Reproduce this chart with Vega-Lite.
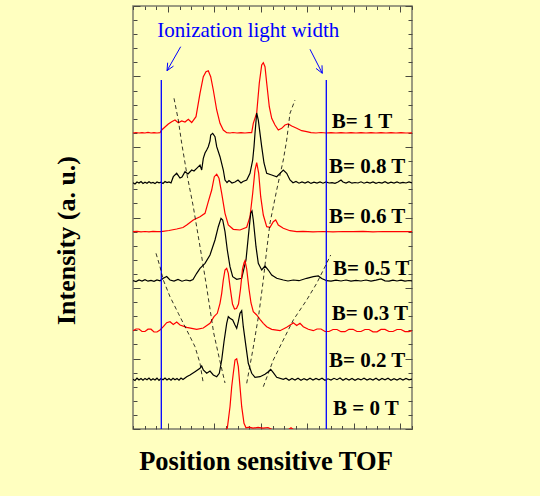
{
  "$schema": "https://vega.github.io/schema/vega-lite/v6.json",
  "width": 279,
  "height": 423,
  "autosize": "none",
  "padding": {"left": 133, "top": 6, "right": 128, "bottom": 67},
  "background": "#FFFFC0",
  "config": {
    "view": {"stroke": "#7b7b6b", "strokeWidth": 1.5},
    "axis": {"grid": false, "labels": false, "domain": false, "tickColor": "#4a4a40", "tickWidth": 1}
  },
  "datasets": {
    "traces": [
      {"trace":"1T","x":0,"y":296},{"trace":"1T","x":3,"y":296.5},{"trace":"1T","x":6,"y":296},{"trace":"1T","x":9,"y":296.3},{"trace":"1T","x":12,"y":296},{"trace":"1T","x":15,"y":296.6},{"trace":"1T","x":18,"y":296},{"trace":"1T","x":21,"y":296.4},{"trace":"1T","x":24,"y":296},{"trace":"1T","x":27,"y":296.3},{"trace":"1T","x":28.7,"y":299},{"trace":"1T","x":32,"y":302},{"trace":"1T","x":35.3,"y":305},{"trace":"1T","x":38.7,"y":307.3},{"trace":"1T","x":42,"y":309},{"trace":"1T","x":45.3,"y":306.3},{"trace":"1T","x":48.7,"y":308},{"trace":"1T","x":52,"y":307},{"trace":"1T","x":55.3,"y":309.7},{"trace":"1T","x":58.7,"y":306.5},{"trace":"1T","x":63,"y":312.3},{"trace":"1T","x":67,"y":335.7},{"trace":"1T","x":70.3,"y":352.3},{"trace":"1T","x":73,"y":357.3},{"trace":"1T","x":75.3,"y":358.3},{"trace":"1T","x":77.7,"y":352.3},{"trace":"1T","x":80.3,"y":339},{"trace":"1T","x":83.7,"y":319},{"trace":"1T","x":87,"y":305.7},{"trace":"1T","x":90.3,"y":299},{"trace":"1T","x":93.7,"y":296.3},{"trace":"1T","x":97,"y":296},{"trace":"1T","x":100,"y":296.5},{"trace":"1T","x":104,"y":296},{"trace":"1T","x":108,"y":296.3},{"trace":"1T","x":112,"y":296},{"trace":"1T","x":116,"y":296.4},{"trace":"1T","x":118.7,"y":296.3},{"trace":"1T","x":120.3,"y":305.7},{"trace":"1T","x":123.7,"y":316},{"trace":"1T","x":126.3,"y":346},{"trace":"1T","x":128.7,"y":364},{"trace":"1T","x":130.3,"y":366.3},{"trace":"1T","x":132,"y":362.3},{"trace":"1T","x":133.7,"y":346},{"trace":"1T","x":136.3,"y":322.3},{"trace":"1T","x":138.7,"y":310.7},{"trace":"1T","x":142,"y":304},{"trace":"1T","x":145.3,"y":299},{"trace":"1T","x":148.7,"y":300.7},{"trace":"1T","x":152,"y":304},{"trace":"1T","x":155.3,"y":305},{"trace":"1T","x":158.7,"y":303},{"trace":"1T","x":163.7,"y":300.7},{"trace":"1T","x":168.7,"y":298.3},{"trace":"1T","x":173.7,"y":297.3},{"trace":"1T","x":178,"y":296.3},{"trace":"1T","x":183,"y":296},{"trace":"1T","x":188,"y":296.5},{"trace":"1T","x":193,"y":296},{"trace":"1T","x":198,"y":296.3},{"trace":"1T","x":203,"y":296},{"trace":"1T","x":208,"y":296.4},{"trace":"1T","x":213,"y":296},{"trace":"1T","x":218,"y":296.3},{"trace":"1T","x":223,"y":296},{"trace":"1T","x":228,"y":296.4},{"trace":"1T","x":233,"y":296},{"trace":"1T","x":238,"y":296.3},{"trace":"1T","x":243,"y":296},{"trace":"1T","x":248,"y":296.4},{"trace":"1T","x":253,"y":296},{"trace":"1T","x":258,"y":296.3},{"trace":"1T","x":263,"y":296},{"trace":"1T","x":268,"y":296.4},{"trace":"1T","x":273,"y":296},{"trace":"1T","x":279,"y":296.2},

      {"trace":"0.8T","x":0,"y":246.3},{"trace":"0.8T","x":2,"y":245},{"trace":"0.8T","x":4,"y":247},{"trace":"0.8T","x":6,"y":246},{"trace":"0.8T","x":8,"y":247.5},{"trace":"0.8T","x":10,"y":245.5},{"trace":"0.8T","x":12,"y":246.8},{"trace":"0.8T","x":14,"y":245.8},{"trace":"0.8T","x":16,"y":247.2},{"trace":"0.8T","x":18,"y":246},{"trace":"0.8T","x":20,"y":246.5},{"trace":"0.8T","x":22,"y":245.4},{"trace":"0.8T","x":24,"y":247},{"trace":"0.8T","x":26,"y":246.2},{"trace":"0.8T","x":28,"y":246.8},{"trace":"0.8T","x":30,"y":245.6},{"trace":"0.8T","x":32,"y":247.5},{"trace":"0.8T","x":34,"y":246.4},{"trace":"0.8T","x":36,"y":247},{"trace":"0.8T","x":38,"y":246},{"trace":"0.8T","x":40.3,"y":252.3},{"trace":"0.8T","x":43.7,"y":255.7},{"trace":"0.8T","x":47,"y":251},{"trace":"0.8T","x":49,"y":252},{"trace":"0.8T","x":52,"y":257.3},{"trace":"0.8T","x":55,"y":255},{"trace":"0.8T","x":58.7,"y":259},{"trace":"0.8T","x":61,"y":258},{"trace":"0.8T","x":63.7,"y":260.7},{"trace":"0.8T","x":67,"y":264},{"trace":"0.8T","x":68.7,"y":259},{"trace":"0.8T","x":70.3,"y":270.7},{"trace":"0.8T","x":72,"y":276},{"trace":"0.8T","x":73.7,"y":279},{"trace":"0.8T","x":75.3,"y":282.3},{"trace":"0.8T","x":77,"y":288},{"trace":"0.8T","x":77.7,"y":294},{"trace":"0.8T","x":79.7,"y":295.7},{"trace":"0.8T","x":82,"y":292.3},{"trace":"0.8T","x":83.7,"y":282.3},{"trace":"0.8T","x":87,"y":272.3},{"trace":"0.8T","x":90.3,"y":259},{"trace":"0.8T","x":92,"y":249},{"trace":"0.8T","x":94,"y":246.5},{"trace":"0.8T","x":96,"y":248.5},{"trace":"0.8T","x":99,"y":246},{"trace":"0.8T","x":102,"y":247},{"trace":"0.8T","x":105,"y":249},{"trace":"0.8T","x":108,"y":246},{"trace":"0.8T","x":110,"y":247.5},{"trace":"0.8T","x":113.7,"y":249},{"trace":"0.8T","x":117,"y":255.7},{"trace":"0.8T","x":119.7,"y":269},{"trace":"0.8T","x":121,"y":282.3},{"trace":"0.8T","x":122,"y":295.7},{"trace":"0.8T","x":123.7,"y":316},{"trace":"0.8T","x":125.3,"y":309},{"trace":"0.8T","x":127,"y":295.7},{"trace":"0.8T","x":128.7,"y":282.3},{"trace":"0.8T","x":131,"y":266},{"trace":"0.8T","x":133.7,"y":255.7},{"trace":"0.8T","x":138.7,"y":254},{"trace":"0.8T","x":143.7,"y":252.3},{"trace":"0.8T","x":147,"y":255.7},{"trace":"0.8T","x":150.3,"y":259},{"trace":"0.8T","x":153.7,"y":255.7},{"trace":"0.8T","x":157,"y":249},{"trace":"0.8T","x":160,"y":246.3},{"trace":"0.8T","x":163,"y":247.5},{"trace":"0.8T","x":166,"y":245.8},{"trace":"0.8T","x":169,"y":247},{"trace":"0.8T","x":172,"y":246},{"trace":"0.8T","x":175,"y":247.3},{"trace":"0.8T","x":178,"y":245.6},{"trace":"0.8T","x":181,"y":246.8},{"trace":"0.8T","x":184,"y":246},{"trace":"0.8T","x":187,"y":247},{"trace":"0.8T","x":190,"y":245.8},{"trace":"0.8T","x":193,"y":247},{"trace":"0.8T","x":196,"y":246},{"trace":"0.8T","x":199,"y":246.4},{"trace":"0.8T","x":202,"y":245.6},{"trace":"0.8T","x":205,"y":247},{"trace":"0.8T","x":208,"y":249},{"trace":"0.8T","x":210,"y":247},{"trace":"0.8T","x":213,"y":246},{"trace":"0.8T","x":216,"y":247.3},{"trace":"0.8T","x":219,"y":245.8},{"trace":"0.8T","x":222,"y":246.5},{"trace":"0.8T","x":225,"y":246},{"trace":"0.8T","x":228,"y":247.2},{"trace":"0.8T","x":231,"y":245.8},{"trace":"0.8T","x":234,"y":246.8},{"trace":"0.8T","x":237,"y":246},{"trace":"0.8T","x":240,"y":247},{"trace":"0.8T","x":243,"y":245.6},{"trace":"0.8T","x":246,"y":246.7},{"trace":"0.8T","x":249,"y":246},{"trace":"0.8T","x":252,"y":247.3},{"trace":"0.8T","x":255,"y":245.7},{"trace":"0.8T","x":258,"y":246.8},{"trace":"0.8T","x":261,"y":246},{"trace":"0.8T","x":264,"y":247},{"trace":"0.8T","x":267,"y":245.8},{"trace":"0.8T","x":270,"y":246.6},{"trace":"0.8T","x":273,"y":246},{"trace":"0.8T","x":276,"y":247},{"trace":"0.8T","x":279,"y":246.2},

      {"trace":"0.6T","x":0,"y":197.3},{"trace":"0.6T","x":4,"y":197.6},{"trace":"0.6T","x":8,"y":197.2},{"trace":"0.6T","x":12,"y":197.5},{"trace":"0.6T","x":16,"y":197.2},{"trace":"0.6T","x":20,"y":197.6},{"trace":"0.6T","x":24,"y":197.3},{"trace":"0.6T","x":28,"y":197.3},{"trace":"0.6T","x":36,"y":198.5},{"trace":"0.6T","x":43.7,"y":200},{"trace":"0.6T","x":50,"y":201.5},{"trace":"0.6T","x":53.7,"y":204},{"trace":"0.6T","x":60.3,"y":209},{"trace":"0.6T","x":67,"y":212.3},{"trace":"0.6T","x":72,"y":215.7},{"trace":"0.6T","x":75.3,"y":227.3},{"trace":"0.6T","x":78.7,"y":239},{"trace":"0.6T","x":81.3,"y":252.3},{"trace":"0.6T","x":83.7,"y":254.7},{"trace":"0.6T","x":86,"y":250.7},{"trace":"0.6T","x":88.7,"y":235.7},{"trace":"0.6T","x":92,"y":215.7},{"trace":"0.6T","x":95.3,"y":204},{"trace":"0.6T","x":100.3,"y":199.7},{"trace":"0.6T","x":107,"y":199},{"trace":"0.6T","x":113.7,"y":201.7},{"trace":"0.6T","x":117,"y":212.3},{"trace":"0.6T","x":119.7,"y":235.7},{"trace":"0.6T","x":122,"y":259},{"trace":"0.6T","x":123.7,"y":266.3},{"trace":"0.6T","x":125.7,"y":255.7},{"trace":"0.6T","x":127.7,"y":232.3},{"trace":"0.6T","x":130.3,"y":214},{"trace":"0.6T","x":133.7,"y":202.3},{"trace":"0.6T","x":137,"y":201.7},{"trace":"0.6T","x":140.3,"y":207.3},{"trace":"0.6T","x":142.7,"y":209},{"trace":"0.6T","x":145.3,"y":204},{"trace":"0.6T","x":150.3,"y":200.7},{"trace":"0.6T","x":157,"y":198.3},{"trace":"0.6T","x":163.7,"y":197.3},{"trace":"0.6T","x":170,"y":197.6},{"trace":"0.6T","x":180,"y":197.2},{"trace":"0.6T","x":190,"y":197.5},{"trace":"0.6T","x":200,"y":197.2},{"trace":"0.6T","x":210,"y":197.5},{"trace":"0.6T","x":220,"y":197.3},{"trace":"0.6T","x":230,"y":197.6},{"trace":"0.6T","x":240,"y":197.2},{"trace":"0.6T","x":250,"y":197.5},{"trace":"0.6T","x":260,"y":197.3},{"trace":"0.6T","x":270,"y":197.5},{"trace":"0.6T","x":279,"y":197.3},

      {"trace":"0.5T","x":0,"y":148.3},{"trace":"0.5T","x":3,"y":147.5},{"trace":"0.5T","x":6,"y":149},{"trace":"0.5T","x":9,"y":148},{"trace":"0.5T","x":12,"y":149.3},{"trace":"0.5T","x":15,"y":147.8},{"trace":"0.5T","x":18,"y":148.6},{"trace":"0.5T","x":21,"y":147.6},{"trace":"0.5T","x":24,"y":149},{"trace":"0.5T","x":27,"y":148.2},{"trace":"0.5T","x":30.3,"y":150.7},{"trace":"0.5T","x":33.7,"y":152.5},{"trace":"0.5T","x":37,"y":149},{"trace":"0.5T","x":41,"y":148},{"trace":"0.5T","x":45,"y":149.5},{"trace":"0.5T","x":49,"y":147.8},{"trace":"0.5T","x":53,"y":149},{"trace":"0.5T","x":57,"y":148.2},{"trace":"0.5T","x":60,"y":149.5},{"trace":"0.5T","x":63.7,"y":155.7},{"trace":"0.5T","x":67,"y":160.7},{"trace":"0.5T","x":72,"y":165.7},{"trace":"0.5T","x":77,"y":174},{"trace":"0.5T","x":82,"y":189},{"trace":"0.5T","x":85.3,"y":202.3},{"trace":"0.5T","x":88,"y":210.7},{"trace":"0.5T","x":89.7,"y":209},{"trace":"0.5T","x":92,"y":197.3},{"trace":"0.5T","x":94.3,"y":179},{"trace":"0.5T","x":97,"y":162.3},{"trace":"0.5T","x":99.7,"y":152.3},{"trace":"0.5T","x":103.7,"y":149.7},{"trace":"0.5T","x":108.7,"y":150.7},{"trace":"0.5T","x":113,"y":169},{"trace":"0.5T","x":115.3,"y":192.3},{"trace":"0.5T","x":117.7,"y":215.7},{"trace":"0.5T","x":119,"y":218},{"trace":"0.5T","x":120.3,"y":209},{"trace":"0.5T","x":123,"y":182.3},{"trace":"0.5T","x":125.3,"y":165.7},{"trace":"0.5T","x":128.7,"y":159},{"trace":"0.5T","x":132,"y":163},{"trace":"0.5T","x":135.3,"y":159},{"trace":"0.5T","x":138.7,"y":154},{"trace":"0.5T","x":143.7,"y":150.7},{"trace":"0.5T","x":150.3,"y":149},{"trace":"0.5T","x":155,"y":148},{"trace":"0.5T","x":160.3,"y":149},{"trace":"0.5T","x":166,"y":148.3},{"trace":"0.5T","x":173.7,"y":150.7},{"trace":"0.5T","x":180.3,"y":152.3},{"trace":"0.5T","x":185.3,"y":153},{"trace":"0.5T","x":188.7,"y":150.5},{"trace":"0.5T","x":193.7,"y":148.3},{"trace":"0.5T","x":198,"y":147.8},{"trace":"0.5T","x":203,"y":148.8},{"trace":"0.5T","x":208,"y":148},{"trace":"0.5T","x":213,"y":149},{"trace":"0.5T","x":218,"y":147.8},{"trace":"0.5T","x":223,"y":148.6},{"trace":"0.5T","x":228,"y":148},{"trace":"0.5T","x":233,"y":149},{"trace":"0.5T","x":238,"y":147.8},{"trace":"0.5T","x":243,"y":148.8},{"trace":"0.5T","x":248,"y":150},{"trace":"0.5T","x":252,"y":148.2},{"trace":"0.5T","x":256,"y":147.8},{"trace":"0.5T","x":260,"y":148.8},{"trace":"0.5T","x":264,"y":148},{"trace":"0.5T","x":268,"y":148.8},{"trace":"0.5T","x":272,"y":147.8},{"trace":"0.5T","x":276,"y":148.5},{"trace":"0.5T","x":279,"y":148.2},

      {"trace":"0.3T","x":0,"y":98.3},{"trace":"0.3T","x":3,"y":100},{"trace":"0.3T","x":6,"y":100},{"trace":"0.3T","x":9,"y":97.5},{"trace":"0.3T","x":12,"y":97.5},{"trace":"0.3T","x":15,"y":99.8},{"trace":"0.3T","x":18,"y":99.8},{"trace":"0.3T","x":21,"y":97},{"trace":"0.3T","x":24,"y":97},{"trace":"0.3T","x":27,"y":99},{"trace":"0.3T","x":30.3,"y":102.3},{"trace":"0.3T","x":33.7,"y":106.3},{"trace":"0.3T","x":37,"y":107.3},{"trace":"0.3T","x":40.3,"y":104.5},{"trace":"0.3T","x":43.7,"y":107},{"trace":"0.3T","x":47,"y":104},{"trace":"0.3T","x":53.7,"y":101.7},{"trace":"0.3T","x":63.7,"y":99.7},{"trace":"0.3T","x":70.3,"y":101},{"trace":"0.3T","x":77,"y":105.7},{"trace":"0.3T","x":81,"y":112.3},{"trace":"0.3T","x":84.3,"y":115.7},{"trace":"0.3T","x":87,"y":125.7},{"trace":"0.3T","x":88.7,"y":135.7},{"trace":"0.3T","x":90.3,"y":149},{"trace":"0.3T","x":92,"y":159},{"trace":"0.3T","x":93.7,"y":160.7},{"trace":"0.3T","x":95.3,"y":155.7},{"trace":"0.3T","x":97,"y":142.3},{"trace":"0.3T","x":99.5,"y":125},{"trace":"0.3T","x":101.5,"y":120},{"trace":"0.3T","x":103.5,"y":120.5},{"trace":"0.3T","x":105.5,"y":125},{"trace":"0.3T","x":107.5,"y":140},{"trace":"0.3T","x":109.5,"y":160},{"trace":"0.3T","x":111,"y":166},{"trace":"0.3T","x":112,"y":168.3},{"trace":"0.3T","x":113.7,"y":160},{"trace":"0.3T","x":116,"y":140},{"trace":"0.3T","x":118,"y":126},{"trace":"0.3T","x":120.3,"y":117.3},{"trace":"0.3T","x":123.7,"y":114},{"trace":"0.3T","x":127,"y":109.7},{"trace":"0.3T","x":130.3,"y":105.7},{"trace":"0.3T","x":133.7,"y":102.3},{"trace":"0.3T","x":138.7,"y":99.7},{"trace":"0.3T","x":147,"y":98.3},{"trace":"0.3T","x":153.7,"y":101.7},{"trace":"0.3T","x":158.7,"y":105},{"trace":"0.3T","x":160.3,"y":106.3},{"trace":"0.3T","x":163.7,"y":103.5},{"trace":"0.3T","x":167,"y":105.7},{"trace":"0.3T","x":170.3,"y":102.3},{"trace":"0.3T","x":175.3,"y":99.7},{"trace":"0.3T","x":180.3,"y":98.3},{"trace":"0.3T","x":184,"y":100},{"trace":"0.3T","x":188,"y":100},{"trace":"0.3T","x":192,"y":97.5},{"trace":"0.3T","x":196,"y":97.5},{"trace":"0.3T","x":200,"y":99.5},{"trace":"0.3T","x":204,"y":99.5},{"trace":"0.3T","x":208,"y":97.3},{"trace":"0.3T","x":212,"y":97.3},{"trace":"0.3T","x":216,"y":99.7},{"trace":"0.3T","x":220,"y":99.7},{"trace":"0.3T","x":224,"y":97.5},{"trace":"0.3T","x":228,"y":97.5},{"trace":"0.3T","x":232,"y":99.5},{"trace":"0.3T","x":236,"y":99.5},{"trace":"0.3T","x":240,"y":97.2},{"trace":"0.3T","x":244,"y":97.2},{"trace":"0.3T","x":248,"y":99.6},{"trace":"0.3T","x":252,"y":99.6},{"trace":"0.3T","x":256,"y":97.5},{"trace":"0.3T","x":260,"y":97.5},{"trace":"0.3T","x":264,"y":99.5},{"trace":"0.3T","x":268,"y":99.5},{"trace":"0.3T","x":272,"y":97.4},{"trace":"0.3T","x":276,"y":97.4},{"trace":"0.3T","x":279,"y":98.3},

      {"trace":"0.2T","x":0,"y":49.7},{"trace":"0.2T","x":2,"y":48.5},{"trace":"0.2T","x":4,"y":50.8},{"trace":"0.2T","x":6,"y":49},{"trace":"0.2T","x":8,"y":50.5},{"trace":"0.2T","x":10,"y":48.8},{"trace":"0.2T","x":12,"y":50.6},{"trace":"0.2T","x":14,"y":49.2},{"trace":"0.2T","x":16,"y":51},{"trace":"0.2T","x":18,"y":48.8},{"trace":"0.2T","x":20,"y":50.3},{"trace":"0.2T","x":22,"y":49},{"trace":"0.2T","x":24,"y":50.8},{"trace":"0.2T","x":26,"y":48.7},{"trace":"0.2T","x":28,"y":50.5},{"trace":"0.2T","x":30,"y":49.3},{"trace":"0.2T","x":32,"y":51},{"trace":"0.2T","x":34,"y":49},{"trace":"0.2T","x":36,"y":50.4},{"trace":"0.2T","x":38,"y":48.8},{"trace":"0.2T","x":40,"y":50.7},{"trace":"0.2T","x":42,"y":49.2},{"trace":"0.2T","x":44,"y":50.5},{"trace":"0.2T","x":46,"y":48.9},{"trace":"0.2T","x":48,"y":51},{"trace":"0.2T","x":50,"y":49.5},{"trace":"0.2T","x":53.7,"y":52.3},{"trace":"0.2T","x":57,"y":54},{"trace":"0.2T","x":62,"y":57.3},{"trace":"0.2T","x":67,"y":60.7},{"trace":"0.2T","x":68.7,"y":63},{"trace":"0.2T","x":70.3,"y":59},{"trace":"0.2T","x":73.7,"y":55.7},{"trace":"0.2T","x":77,"y":58},{"trace":"0.2T","x":80.3,"y":54},{"trace":"0.2T","x":83.7,"y":52.3},{"trace":"0.2T","x":86.3,"y":55.7},{"trace":"0.2T","x":88.7,"y":69},{"trace":"0.2T","x":91,"y":87.3},{"trace":"0.2T","x":93.7,"y":105.7},{"trace":"0.2T","x":95.3,"y":112.3},{"trace":"0.2T","x":97,"y":110.7},{"trace":"0.2T","x":99.7,"y":109},{"trace":"0.2T","x":102,"y":104},{"trace":"0.2T","x":103.7,"y":100.7},{"trace":"0.2T","x":105.3,"y":107.3},{"trace":"0.2T","x":107,"y":115.7},{"trace":"0.2T","x":108.7,"y":118.3},{"trace":"0.2T","x":110.3,"y":102.3},{"trace":"0.2T","x":113,"y":82.3},{"trace":"0.2T","x":115.3,"y":65.7},{"trace":"0.2T","x":118.7,"y":55.7},{"trace":"0.2T","x":122,"y":51.7},{"trace":"0.2T","x":127,"y":52.3},{"trace":"0.2T","x":132,"y":54.7},{"trace":"0.2T","x":135.3,"y":57.3},{"trace":"0.2T","x":137.7,"y":59.7},{"trace":"0.2T","x":140.3,"y":56.3},{"trace":"0.2T","x":143.7,"y":51.7},{"trace":"0.2T","x":150.3,"y":49.7},{"trace":"0.2T","x":153,"y":50.8},{"trace":"0.2T","x":156,"y":48.8},{"trace":"0.2T","x":159,"y":50.5},{"trace":"0.2T","x":162,"y":49},{"trace":"0.2T","x":165,"y":50.7},{"trace":"0.2T","x":168,"y":48.7},{"trace":"0.2T","x":171,"y":50.4},{"trace":"0.2T","x":174,"y":49},{"trace":"0.2T","x":177,"y":50.8},{"trace":"0.2T","x":180,"y":48.9},{"trace":"0.2T","x":183,"y":50.5},{"trace":"0.2T","x":186,"y":49.2},{"trace":"0.2T","x":189,"y":50.8},{"trace":"0.2T","x":192,"y":48.8},{"trace":"0.2T","x":195,"y":50.2},{"trace":"0.2T","x":198,"y":49},{"trace":"0.2T","x":201,"y":50.7},{"trace":"0.2T","x":204,"y":49.3},{"trace":"0.2T","x":207,"y":51},{"trace":"0.2T","x":210,"y":48.8},{"trace":"0.2T","x":213,"y":50.5},{"trace":"0.2T","x":216,"y":49},{"trace":"0.2T","x":219,"y":50.6},{"trace":"0.2T","x":222,"y":48.8},{"trace":"0.2T","x":225,"y":50.4},{"trace":"0.2T","x":228,"y":49.1},{"trace":"0.2T","x":231,"y":50.8},{"trace":"0.2T","x":234,"y":48.9},{"trace":"0.2T","x":237,"y":50.4},{"trace":"0.2T","x":240,"y":49},{"trace":"0.2T","x":243,"y":50.7},{"trace":"0.2T","x":246,"y":48.8},{"trace":"0.2T","x":249,"y":50.5},{"trace":"0.2T","x":252,"y":49.2},{"trace":"0.2T","x":255,"y":50.8},{"trace":"0.2T","x":258,"y":48.8},{"trace":"0.2T","x":261,"y":50.3},{"trace":"0.2T","x":264,"y":49},{"trace":"0.2T","x":267,"y":50.6},{"trace":"0.2T","x":270,"y":48.9},{"trace":"0.2T","x":273,"y":50.5},{"trace":"0.2T","x":276,"y":49.1},{"trace":"0.2T","x":279,"y":50},

      {"trace":"0T","x":0,"y":-1},{"trace":"0T","x":92,"y":-1},{"trace":"0T","x":94.3,"y":0.8},{"trace":"0T","x":97,"y":22.3},{"trace":"0T","x":98.7,"y":42.3},{"trace":"0T","x":100.3,"y":55.7},{"trace":"0T","x":102,"y":69},{"trace":"0T","x":103.7,"y":70.3},{"trace":"0T","x":105.3,"y":62.3},{"trace":"0T","x":107,"y":42.3},{"trace":"0T","x":108.7,"y":22.3},{"trace":"0T","x":111,"y":5.7},{"trace":"0T","x":113,"y":1.2},{"trace":"0T","x":116,"y":1.8},{"trace":"0T","x":120,"y":0.8},{"trace":"0T","x":125,"y":1.6},{"trace":"0T","x":130,"y":0.8},{"trace":"0T","x":135,"y":1.5},{"trace":"0T","x":140,"y":-1},{"trace":"0T","x":155,"y":-1},{"trace":"0T","x":158,"y":1.2},{"trace":"0T","x":161,"y":-1},{"trace":"0T","x":279,"y":-1}
    ],
    "dashes": [
      {"c":"a","x":41,"y":330.7},{"c":"a","x":45.3,"y":309},{"c":"a","x":48.7,"y":285.7},{"c":"a","x":53.7,"y":256},{"c":"a","x":60.3,"y":222.3},{"c":"a","x":68.7,"y":172.3},{"c":"a","x":73,"y":146},{"c":"a","x":80.7,"y":96},{"c":"a","x":86,"y":72},{"c":"a","x":92,"y":46},
      {"c":"b","x":162,"y":329},{"c":"b","x":157,"y":315.7},{"c":"b","x":153.7,"y":289},{"c":"b","x":150.3,"y":269},{"c":"b","x":143.7,"y":239},{"c":"b","x":137,"y":206},{"c":"b","x":133.7,"y":179},{"c":"b","x":130.3,"y":149},{"c":"b","x":126,"y":116},{"c":"b","x":120,"y":80},{"c":"b","x":113.7,"y":45.7},
      {"c":"c","x":23,"y":175.7},{"c":"c","x":27,"y":162.3},{"c":"c","x":30.3,"y":149},{"c":"c","x":37,"y":132.3},{"c":"c","x":45.3,"y":115.7},{"c":"c","x":53.7,"y":99},{"c":"c","x":62,"y":82.3},{"c":"c","x":67,"y":65.7},{"c":"c","x":70.3,"y":45.7},
      {"c":"d","x":197.7,"y":174},{"c":"d","x":192,"y":162.3},{"c":"d","x":183.7,"y":145.7},{"c":"d","x":173.7,"y":129},{"c":"d","x":160.3,"y":109},{"c":"d","x":150.3,"y":89},{"c":"d","x":140.3,"y":69},{"c":"d","x":130.3,"y":42.3}
    ],
    "labels": [
      {"label":"B= 1 T","x":198.7,"y":301},
      {"label":"B= 0.8 T","x":196,"y":256.3},
      {"label":"B= 0.6 T","x":196,"y":206.3},
      {"label":"B= 0.5 T","x":200,"y":154},
      {"label":"B= 0.3 T","x":198.7,"y":109},
      {"label":"B= 0.2 T","x":196,"y":62},
      {"label":"B = 0 T","x":200,"y":14}
    ]
  },
  "layer": [
    {
      "data": {"name": "traces"},
      "mark": {"type": "line", "strokeWidth": 1.2, "clip": true},
      "encoding": {
        "x": {"field": "x", "type": "quantitative", "scale": {"domain": [0, 279], "nice": false, "zero": false},
          "axis": {"orient": "bottom",
            "values": [0, 11.625, 23.25, 34.875, 46.5, 58.125, 69.75, 81.375, 93, 104.625, 116.25, 127.875, 139.5, 151.125, 162.75, 174.375, 186, 197.625, 209.25, 220.875, 232.5, 244.125, 255.75, 267.375, 279],
            "tickSize": {"condition": {"test": "abs((datum.value-34.875)/46.5 - round((datum.value-34.875)/46.5)) < 0.01", "value": -6}, "value": -3.5},
            "title": "Position sensitive TOF", "titleFont": "Liberation Serif", "titleFontSize": 26.5, "titleFontWeight": "bold", "titleColor": "#000000",
            "titleX": 132.5, "titleY": 40, "titleBaseline": "alphabetic", "titleAlign": "center"}},
        "y": {"field": "y", "type": "quantitative", "scale": {"domain": [0, 423], "nice": false, "zero": false},
          "axis": {"orient": "left",
            "values": [0, 14.1, 28.2, 42.3, 56.4, 70.5, 84.6, 98.7, 112.8, 126.9, 141, 155.1, 169.2, 183.3, 197.4, 211.5, 225.6, 239.7, 253.8, 267.9, 282, 296.1, 310.2, 324.3, 338.4, 352.5, 366.6, 380.7, 394.8, 408.9, 423],
            "tickSize": {"condition": {"test": "abs(datum.value/70.5 - round(datum.value/70.5)) < 0.01", "value": -7}, "value": -4},
            "title": "Intensity (a. u.)", "titleFont": "Liberation Serif", "titleFontSize": 26, "titleFontWeight": "bold", "titleColor": "#000000",
            "titleAngle": 270, "titleX": -59, "titleY": 234, "titleBaseline": "alphabetic", "titleAlign": "center"}},
        "color": {"field": "trace", "type": "nominal", "legend": null,
          "scale": {"domain": ["1T", "0.8T", "0.6T", "0.5T", "0.3T", "0.2T", "0T"], "range": ["#ff0000", "#000000", "#ff0000", "#000000", "#ff0000", "#000000", "#ff0000"]}}
      }
    },
    {
      "data": {"values": [{"x": 28.3, "y0": 0, "y1": 349}, {"x": 193.3, "y0": 0, "y1": 349}]},
      "mark": {"type": "rule", "color": "#0000ff", "strokeWidth": 1.3},
      "encoding": {
        "x": {"field": "x", "type": "quantitative", "scale": {"domain": [0, 279], "nice": false, "zero": false},
          "axis": {"orient": "top", "title": null,
            "values": [0, 11.625, 23.25, 34.875, 46.5, 58.125, 69.75, 81.375, 93, 104.625, 116.25, 127.875, 139.5, 151.125, 162.75, 174.375, 186, 197.625, 209.25, 220.875, 232.5, 244.125, 255.75, 267.375, 279],
            "tickSize": {"condition": {"test": "abs((datum.value-34.875)/46.5 - round((datum.value-34.875)/46.5)) < 0.01", "value": -6}, "value": -3.5}}},
        "y": {"field": "y0", "type": "quantitative", "scale": {"domain": [0, 423], "nice": false, "zero": false},
          "axis": {"orient": "right", "title": null,
            "values": [0, 14.1, 28.2, 42.3, 56.4, 70.5, 84.6, 98.7, 112.8, 126.9, 141, 155.1, 169.2, 183.3, 197.4, 211.5, 225.6, 239.7, 253.8, 267.9, 282, 296.1, 310.2, 324.3, 338.4, 352.5, 366.6, 380.7, 394.8, 408.9, 423],
            "tickSize": {"condition": {"test": "abs(datum.value/70.5 - round(datum.value/70.5)) < 0.01", "value": -7}, "value": -4}}},
        "y2": {"field": "y1"}
      }
    },
    {
      "data": {"name": "dashes"},
      "mark": {"type": "line", "color": "#000000", "strokeWidth": 0.8, "strokeDash": [4, 3]},
      "encoding": {
        "x": {"field": "x", "type": "quantitative", "scale": {"domain": [0, 279], "nice": false, "zero": false}, "axis": null},
        "y": {"field": "y", "type": "quantitative", "scale": {"domain": [0, 423], "nice": false, "zero": false}, "axis": null},
        "detail": {"field": "c", "type": "nominal"}
      }
    },
    {
      "data": {"values": [
        {"x": 47.7, "y": 382.3, "x2": 34, "y2": 358.3},
        {"x": 34, "y": 358.3, "x2": 40.5, "y2": 362.9},
        {"x": 34, "y": 358.3, "x2": 34.65, "y2": 366.3},
        {"x": 177, "y": 379.7, "x2": 189.3, "y2": 355.7},
        {"x": 189.3, "y": 355.7, "x2": 189, "y2": 363.7},
        {"x": 189.3, "y": 355.7, "x2": 183, "y2": 360.6}
      ]},
      "mark": {"type": "rule", "color": "#0000ff", "strokeWidth": 1},
      "encoding": {
        "x": {"field": "x", "type": "quantitative", "scale": {"domain": [0, 279], "nice": false, "zero": false}, "axis": null},
        "y": {"field": "y", "type": "quantitative", "scale": {"domain": [0, 423], "nice": false, "zero": false}, "axis": null},
        "x2": {"field": "x2"},
        "y2": {"field": "y2"}
      }
    },
    {
      "data": {"values": [{"text": "Ionization light width", "x": 115.3, "y": 392.3}]},
      "mark": {"type": "text", "font": "Liberation Serif", "fontSize": 21, "color": "#0000ff", "align": "center", "baseline": "alphabetic"},
      "encoding": {
        "x": {"field": "x", "type": "quantitative", "scale": {"domain": [0, 279], "nice": false, "zero": false}, "axis": null},
        "y": {"field": "y", "type": "quantitative", "scale": {"domain": [0, 423], "nice": false, "zero": false}, "axis": null},
        "text": {"field": "text"}
      }
    },
    {
      "data": {"name": "labels"},
      "mark": {"type": "text", "font": "Liberation Serif", "fontSize": 21, "fontWeight": "bold", "color": "#000000", "align": "left", "baseline": "alphabetic"},
      "encoding": {
        "x": {"field": "x", "type": "quantitative", "scale": {"domain": [0, 279], "nice": false, "zero": false}, "axis": null},
        "y": {"field": "y", "type": "quantitative", "scale": {"domain": [0, 423], "nice": false, "zero": false}, "axis": null},
        "text": {"field": "label"}
      }
    }
  ],
  "resolve": {"axis": {"x": "independent", "y": "independent"}}
}
